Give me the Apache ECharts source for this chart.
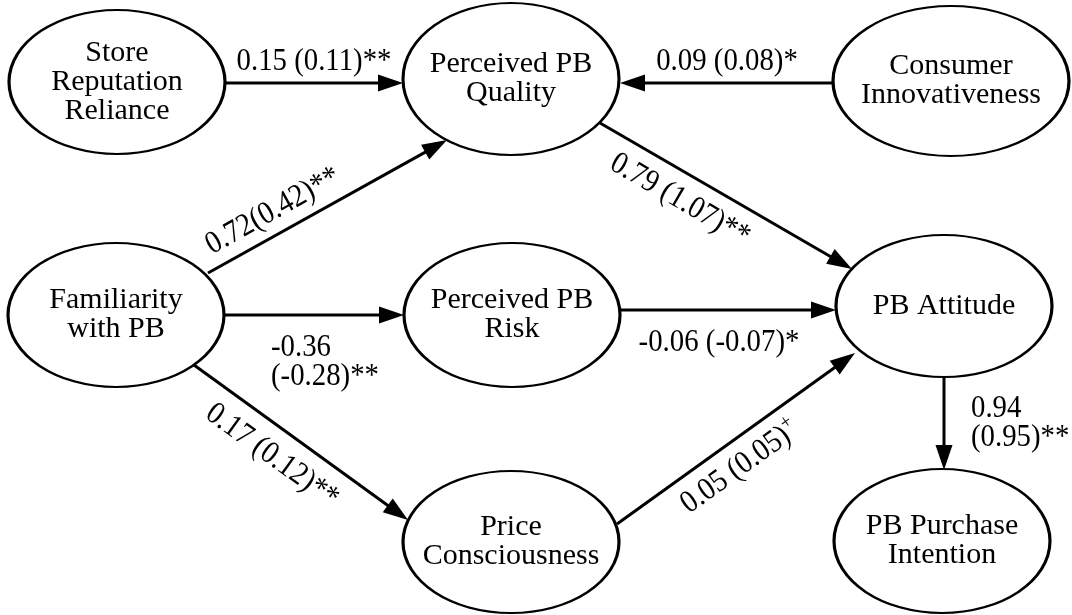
<!DOCTYPE html>
<html><head><meta charset="utf-8">
<script src="https://cdn.jsdelivr.net/npm/echarts@6/dist/echarts.min.js"></script>
<style>html,body{margin:0;padding:0;background:#fff}#c{width:1072px;height:615px}</style>
</head><body><div id="c"></div>
<script>
// ---------- data ----------
const nodeNames = ['Store\nReputation\nReliance', 'Perceived PB\nQuality', 'Consumer\nInnovativeness',
  'Familiarity\nwith PB', 'Perceived PB\nRisk', 'PB Attitude', 'Price\nConsciousness', 'PB Purchase\nIntention'];
const edgeFrom  = [0, 2, 3, 3, 3, 1, 4, 6, 5];
const edgeTo    = [1, 1, 1, 4, 6, 5, 5, 5, 7];
const stdCoef   = ['0.15', '0.09', '0.72', '-0.36', '0.17', '0.79', '-0.06', '0.05', '0.94'];
const unstdCoef = ['0.11', '0.08', '0.42', '-0.28', '0.12', '1.07', '-0.07', '0.05', '0.95'];
const sigMark   = ['**', '*', '**', '**', '**', '**', '*', '+', '**'];

// ---------- layout (canvas pixels) ----------
const nodeX  = [117, 511, 951, 116, 512, 944, 511, 942];
const nodeY  = [82, 79, 81, 315, 315, 306, 542, 541];
const nodeRX = [108, 108, 118, 108, 108, 108, 108, 108];
const nodeRY = [72, 76, 75, 72, 72, 71, 71, 72];
const edgeStart = [[226, 83], [833, 83], [208, 273], [224, 315], [194, 365], [600, 123], [619, 310], [617, 524], [944, 377]];
const edgeTip   = [[403, 83], [620, 83], [447, 140], [404, 315], [408, 520], [852, 269], [836, 310], [855, 353], [944, 470]];
const labelSep    = [' ', ' ', '', '\n', ' ', ' ', ' ', ' ', '\n'];
const labelPos    = [[314, 62], [727, 62], [273, 211], [271, 362], [272, 456], [680, 200], [719, 343], [740, 467], [971, 423]];
const labelAlign  = ['center', 'center', 'center', 'left', 'center', 'center', 'center', 'center', 'left'];
const labelRotate = [false, false, true, false, true, true, false, true, false];

const ELLIPSE = 'path://M0,50C0,22.386,22.386,0,50,0C77.614,0,100,22.386,100,50C100,77.614,77.614,100,50,100C22.386,100,0,77.614,0,50Z';

function labelText(i) {
  const sig = sigMark[i] === '+' ? '{s|+}' : sigMark[i];
  return stdCoef[i] + labelSep[i] + '(' + unstdCoef[i] + ')' + sig;
}

function renderEdge(params, api) {
  const i = params.dataIndex;
  const p0 = api.coord([api.value(0), api.value(1)]);
  const p1 = api.coord([api.value(2), api.value(3)]);
  const dx = p1[0] - p0[0], dy = p1[1] - p0[1];
  const len = Math.hypot(dx, dy);
  const ux = dx / len, uy = dy / len;
  const AL = 25, AW = 8.5;
  const bx = p1[0] - ux * AL, by = p1[1] - uy * AL;
  let rot = 0;
  if (labelRotate[i]) {
    rot = -Math.atan2(dy, dx);
    if (dx < 0) rot += Math.PI;
  }
  const lp = api.coord(labelPos[i]);
  return {
    type: 'group',
    children: [
      { type: 'line', shape: { x1: p0[0], y1: p0[1], x2: p1[0] - ux * AL * 0.5, y2: p1[1] - uy * AL * 0.5 },
        style: { stroke: '#000', lineWidth: 3 } },
      { type: 'polygon', shape: { points: [[p1[0], p1[1]], [bx - uy * AW, by + ux * AW], [bx + uy * AW, by - ux * AW]] },
        style: { fill: '#000' } },
      { type: 'text', x: lp[0], y: lp[1], rotation: rot, scaleX: 0.9,
        style: { text: labelText(i), fontFamily: 'Liberation Serif', fontSize: 32, fill: '#000',
          align: labelAlign[i], verticalAlign: 'middle', lineHeight: 29,
          rich: { s: { fontFamily: 'Liberation Serif', fontSize: 21, fill: '#000', padding: [0, 0, 18, 0] } } } }
    ]
  };
}

const chart = echarts.init(document.getElementById('c'), null, { renderer: 'canvas' });
chart.setOption({
  animation: false,
  backgroundColor: '#fff',
  grid: { left: 0, right: 0, top: 0, bottom: 0 },
  xAxis: { type: 'value', min: 0, max: 1072, show: false },
  yAxis: { type: 'value', min: 0, max: 615, inverse: true, show: false },
  series: [
    {
      type: 'custom',
      z: 2,
      silent: true,
      encode: { x: [0, 2], y: [1, 3] },
      data: edgeFrom.map((f, i) => ({
        name: nodeNames[f].replace(/\n/g, ' ') + ' -> ' + nodeNames[edgeTo[i]].replace(/\n/g, ' '),
        value: [edgeStart[i][0], edgeStart[i][1], edgeTip[i][0], edgeTip[i][1]]
      })),
      renderItem: renderEdge
    },
    {
      type: 'scatter',
      z: 3,
      silent: true,
      symbol: ELLIPSE,
      data: nodeNames.map((n, i) => ({ name: n, value: [nodeX[i], nodeY[i]], symbolSize: [2 * nodeRX[i], 2 * nodeRY[i]] })),
      itemStyle: { color: '#fff', borderColor: '#000', borderWidth: 2.6, opacity: 1 },
      label: { show: true, position: 'inside', formatter: p => p.name, fontFamily: 'Liberation Serif',
        fontSize: 30, lineHeight: 29, color: '#000' },
      emphasis: { disabled: true }
    }
  ]
});
</script>
</body></html>
